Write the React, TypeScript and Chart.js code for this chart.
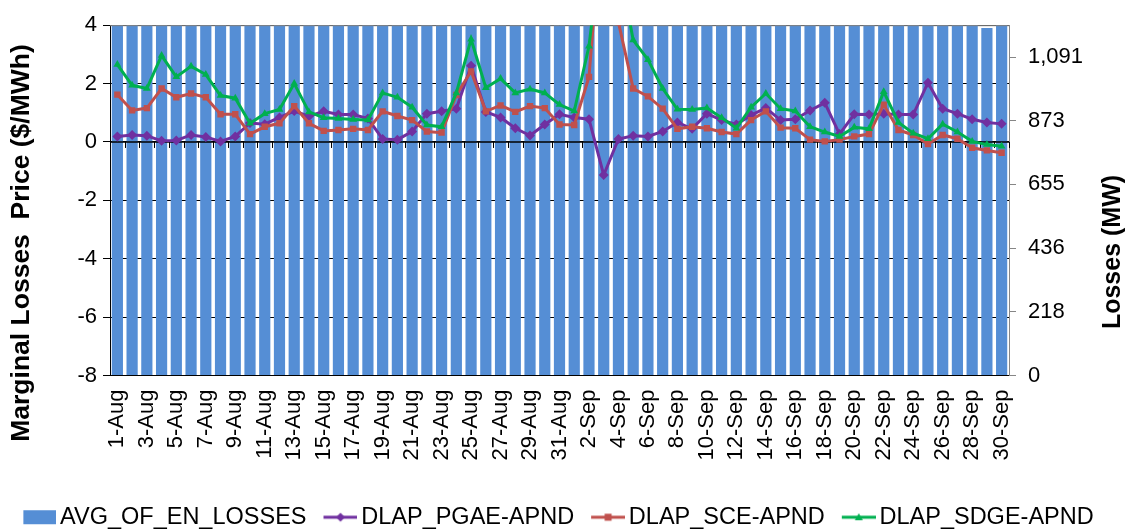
import React, { useEffect, useRef } from 'react';
import { Chart, registerables } from 'chart.js';

Chart.register(...registerables);

const FONT = "'Liberation Sans', Arial, sans-serif";

const categories = [
  '1-Aug', '2-Aug', '3-Aug', '4-Aug', '5-Aug', '6-Aug', '7-Aug', '8-Aug', '9-Aug', '10-Aug',
  '11-Aug', '12-Aug', '13-Aug', '14-Aug', '15-Aug', '16-Aug', '17-Aug', '18-Aug', '19-Aug', '20-Aug',
  '21-Aug', '22-Aug', '23-Aug', '24-Aug', '25-Aug', '26-Aug', '27-Aug', '28-Aug', '29-Aug', '30-Aug',
  '31-Aug', '1-Sep', '2-Sep', '3-Sep', '4-Sep', '5-Sep', '6-Sep', '7-Sep', '8-Sep', '9-Sep',
  '10-Sep', '11-Sep', '12-Sep', '13-Sep', '14-Sep', '15-Sep', '16-Sep', '17-Sep', '18-Sep', '19-Sep',
  '20-Sep', '21-Sep', '22-Sep', '23-Sep', '24-Sep', '25-Sep', '26-Sep', '27-Sep', '28-Sep', '29-Sep',
  '30-Sep',
];

// AVG_OF_EN_LOSSES (MW) - bars run above the top of the right axis (clipped)
const avgEnLosses = [
  1262, 1248, 1255, 1271, 1266, 1259, 1244, 1238, 1251, 1263,
  1270, 1258, 1249, 1264, 1273, 1268, 1257, 1246, 1252, 1261,
  1269, 1274, 1266, 1255, 1243, 1250, 1262, 1267, 1271, 1259,
  1248, 1236, 1245, 1260, 1272, 1265, 1254, 1247, 1258, 1263,
  1256, 1249, 1241, 1252, 1264, 1260, 1253, 1244, 1238, 1246,
  1251, 1242, 1235, 1240, 1233, 1229, 1237, 1226, 1218, 1190,
  1212,
];

const pgaeApnd = [
  0.19, 0.24, 0.21, 0.04, 0.05, 0.24, 0.17, 0.02, 0.19, 0.65,
  0.61, 0.84, 1.06, 0.88, 1.05, 0.94, 0.94, 0.80, 0.10, 0.08,
  0.36, 0.97, 1.05, 1.14, 2.61, 1.03, 0.84, 0.47, 0.22, 0.60,
  0.95, 0.84, 0.78, -1.13, 0.10, 0.21, 0.19, 0.36, 0.67, 0.45,
  0.97, 0.75, 0.60, 0.92, 1.16, 0.75, 0.78, 1.08, 1.34, 0.27,
  0.95, 0.94, 0.97, 0.94, 0.94, 2.03, 1.14, 0.97, 0.78, 0.67,
  0.62,
];

const sceApnd = [
  1.62, 1.08, 1.16, 1.83, 1.53, 1.66, 1.53, 0.95, 0.95, 0.27,
  0.52, 0.64, 1.23, 0.64, 0.38, 0.41, 0.45, 0.41, 1.05, 0.89,
  0.75, 0.36, 0.32, 1.61, 2.42, 1.05, 1.25, 1.03, 1.23, 1.16,
  0.60, 0.58, 2.23, 8.5, 4.1, 1.83, 1.56, 1.14, 0.45, 0.52,
  0.47, 0.34, 0.27, 0.75, 1.05, 0.49, 0.47, 0.08, 0.02, 0.08,
  0.19, 0.27, 1.28, 0.41, 0.24, -0.07, 0.24, 0.11, -0.20, -0.29,
  -0.37,
];

const sdgeApnd = [
  2.65, 1.94, 1.83, 2.96, 2.23, 2.59, 2.31, 1.59, 1.50, 0.64,
  0.97, 1.11, 2.00, 1.03, 0.83, 0.80, 0.77, 0.75, 1.68, 1.53,
  1.19, 0.58, 0.52, 1.68, 3.52, 1.86, 2.17, 1.68, 1.81, 1.68,
  1.28, 1.06, 3.28, 7.5, 6.2, 3.49, 2.82, 1.83, 1.12, 1.11,
  1.16, 0.83, 0.47, 1.19, 1.66, 1.14, 1.06, 0.52, 0.34, 0.19,
  0.50, 0.45, 1.72, 0.67, 0.30, 0.11, 0.61, 0.34, 0.02, -0.09,
  -0.15,
];

const seriesNames = ['AVG_OF_EN_LOSSES', 'DLAP_PGAE-APND', 'DLAP_SCE-APND', 'DLAP_SDGE-APND'];
const seriesColors = ['#558ED5', '#7030A0', '#C0504D', '#00B050'];

const leftAxisTitle = 'Marginal Losses  Price ($/MWh)';
const rightAxisTitle = 'Losses (MW)';
const leftTicks = { min: -8, max: 4, step: 2 };
const rightTickValues = [0, 218.18, 436.36, 654.55, 872.73, 1090.91];
const rightMax = 1200;

function makeIcon(color: string, shape: string): HTMLCanvasElement {
  const c = document.createElement('canvas');
  c.width = 50;
  c.height = 16;
  const g = c.getContext('2d')!;
  g.fillStyle = color;
  g.strokeStyle = color;
  if (shape === 'box') {
    g.fillRect(17, 1, 33, 14);
    return c;
  }
  g.lineWidth = 3;
  g.beginPath();
  g.moveTo(16, 8);
  g.lineTo(50, 8);
  g.stroke();
  const cx = 33, cy = 8;
  g.beginPath();
  if (shape === 'diamond') {
    g.moveTo(cx, cy - 4.5); g.lineTo(cx + 4.5, cy); g.lineTo(cx, cy + 4.5); g.lineTo(cx - 4.5, cy);
  } else if (shape === 'square') {
    g.rect(cx - 3.5, cy - 3.5, 7, 7);
  } else {
    g.moveTo(cx, cy - 4); g.lineTo(cx + 4, cy + 3); g.lineTo(cx - 4, cy + 3);
  }
  g.closePath();
  g.fill();
  return c;
}

const zeroLinePlugin = {
  id: 'zeroLine',
  afterDatasetDraw(chart: any, args: any) {
    if (args.index !== 0) return;
    const ctx = chart.ctx;
    const ys = chart.scales.y;
    const xs = chart.scales.x;
    const { left, right, top } = chart.chartArea;
    const y0 = ys.getPixelForValue(0);
    ctx.save();
    ctx.strokeStyle = '#868686';
    ctx.lineWidth = 1;
    ctx.beginPath();
    ctx.moveTo(left, top + 0.5);
    ctx.lineTo(right, top + 0.5);
    ctx.stroke();
    ctx.strokeStyle = '#000';
    ctx.lineWidth = 1.5;
    ctx.beginPath();
    ctx.moveTo(left, y0);
    ctx.lineTo(right, y0);
    ctx.stroke();
    ctx.lineWidth = 1;
    const n = categories.length;
    const w = (right - left) / n;
    ctx.beginPath();
    for (let i = 0; i <= n; i++) {
      const xb = Math.round(xs.getPixelForValue(i) - w / 2) + 0.5;
      ctx.moveTo(xb, y0);
      ctx.lineTo(xb, y0 + 6);
    }
    ctx.stroke();
    ctx.restore();
  },
};

const axisTitlePlugin = {
  id: 'axisTitles',
  afterDraw(chart: any) {
    const ctx = chart.ctx;
    const { left, right } = chart.chartArea;
    ctx.save();
    ctx.fillStyle = '#000';
    ctx.textAlign = 'center';
    ctx.textBaseline = 'middle';
    ctx.save();
    ctx.font = `bold 26.5px ${FONT}`;
    ctx.translate(left - 88, 243);
    ctx.rotate(-Math.PI / 2);
    ctx.fillText(leftAxisTitle, 0, 0);
    ctx.restore();
    ctx.save();
    ctx.font = `bold 25px ${FONT}`;
    ctx.translate(right + 104, 252);
    ctx.rotate(-Math.PI / 2);
    ctx.fillText(rightAxisTitle, 0, 0);
    ctx.restore();
    ctx.restore();
  },
};

export default function App() {
  const canvasRef = useRef<HTMLCanvasElement | null>(null);

  useEffect(() => {
    if (!canvasRef.current) return;
    const icons = [
      makeIcon(seriesColors[0], 'box'),
      makeIcon(seriesColors[1], 'diamond'),
      makeIcon(seriesColors[2], 'square'),
      makeIcon(seriesColors[3], 'triangle'),
    ];
    const chart = new Chart(canvasRef.current, {
      type: 'bar',
      data: {
        labels: categories,
        datasets: [
          {
            type: 'bar',
            label: seriesNames[0],
            data: avgEnLosses,
            yAxisID: 'y1',
            backgroundColor: seriesColors[0],
            barPercentage: 0.76,
            categoryPercentage: 1.0,
            order: 10,
          },
          {
            type: 'line',
            label: seriesNames[1],
            data: pgaeApnd,
            yAxisID: 'y',
            borderColor: seriesColors[1],
            backgroundColor: seriesColors[1],
            borderWidth: 3,
            pointStyle: 'rectRot',
            pointRadius: 5,
            pointBorderWidth: 0,
            tension: 0,
            clip: 0,
            order: 3,
          },
          {
            type: 'line',
            label: seriesNames[2],
            data: sceApnd,
            yAxisID: 'y',
            borderColor: seriesColors[2],
            backgroundColor: seriesColors[2],
            borderWidth: 3,
            pointStyle: 'rect',
            pointRadius: 4.5,
            pointBorderWidth: 0,
            tension: 0,
            clip: 0,
            order: 2,
          },
          {
            type: 'line',
            label: seriesNames[3],
            data: sdgeApnd,
            yAxisID: 'y',
            borderColor: seriesColors[3],
            backgroundColor: seriesColors[3],
            borderWidth: 3,
            pointStyle: 'triangle',
            pointRadius: 4.5,
            pointBorderWidth: 0,
            tension: 0,
            clip: 0,
            order: 1,
          },
        ] as any,
      },
      options: {
        animation: false,
        responsive: true,
        maintainAspectRatio: false,
        events: [],
        layout: { padding: { top: 18, bottom: -8, left: 0, right: 20 } },
        plugins: {
          tooltip: { enabled: false },
          legend: {
            position: 'bottom',
            labels: {
              usePointStyle: true,
              pointStyleWidth: 34,
              boxHeight: 14,
              padding: 9,
              color: '#000',
              font: { family: FONT, size: 23.5 },
              generateLabels: (chart: any) => {
                const base = Chart.defaults.plugins.legend.labels.generateLabels(chart);
                return base
                  .sort((a: any, b: any) => a.datasetIndex - b.datasetIndex)
                  .map((l: any) => ({ ...l, pointStyle: icons[l.datasetIndex], lineWidth: 0 }));
              },
            },
          },
        },
        scales: {
          x: {
            type: 'category',
            offset: true,
            grid: { display: false },
            border: { display: false },
            afterFit: (s: any) => { s.height = 121; },
            ticks: {
              autoSkip: false,
              maxRotation: 90,
              minRotation: 90,
              padding: 6,
              color: '#000',
              font: { family: FONT, size: 22 },
              callback: (_v: any, i: number) => (i % 2 === 0 ? categories[i] : ''),
            },
          },
          y: {
            position: 'left',
            min: leftTicks.min,
            max: leftTicks.max,
            afterFit: (s: any) => { s.width = 110; },
            ticks: {
              stepSize: leftTicks.step,
              color: '#000',
              padding: 6,
              font: { family: FONT, size: 22 },
            },
            grid: { color: '#000', lineWidth: 1, tickLength: 7, tickColor: '#000' },
            border: { color: '#000', width: 1 },
          },
          y1: {
            position: 'right',
            min: 0,
            max: rightMax,
            afterFit: (s: any) => { s.width = 99; },
            afterBuildTicks: (s: any) => { s.ticks = rightTickValues.map((v) => ({ value: v })); },
            ticks: {
              color: '#000',
              padding: 12,
              font: { family: FONT, size: 22 },
              callback: (v: any) => Math.round(Number(v)).toLocaleString('en-US'),
            },
            grid: { drawOnChartArea: false, tickLength: 7, tickColor: '#868686' },
            border: { color: '#868686', width: 1 },
          },
        },
      } as any,
      plugins: [zeroLinePlugin, axisTitlePlugin],
    });
    return () => chart.destroy();
  }, []);

  return (
    <div style={{ position: 'absolute', left: 0, top: 0, width: 1128, height: 531 }}>
      <canvas ref={canvasRef} />
    </div>
  );
}
